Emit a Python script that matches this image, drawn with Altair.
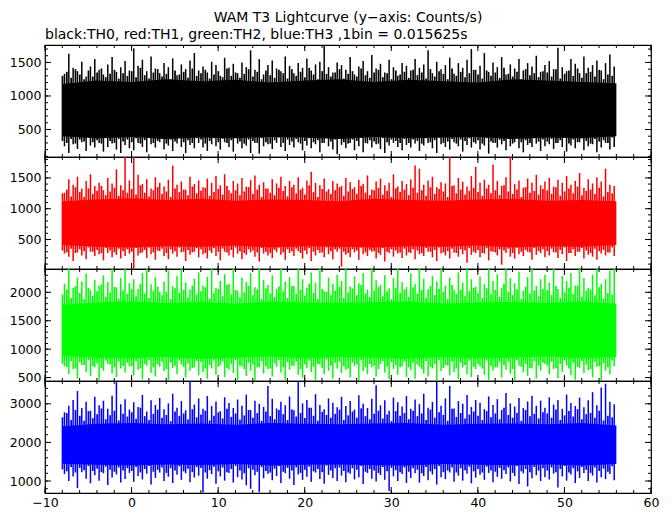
import altair as alt
import pandas as pd

# time axis: 4096 bins of 0.015625 s from -8 s to 56 s; envelope read per 0.5 s
T0 = -8.0
STEP = 0.5
CORE_STEP = 4.0

black_hi = [1330, 1630, 1420, 1370, 1510, 1290, 1440, 1550, 1390, 1320, 1470, 1580, 1360, 1430, 1520, 1380,
            1710, 1450, 1540, 1370, 1590, 1410, 1340, 1490, 1430, 1560, 1310, 1470, 1400, 1530, 1640, 1380,
            1440, 1350, 1510, 1460, 1300, 1570, 1420, 1480, 1340, 1500, 1430, 1680, 1390, 1550, 1320, 1460,
            1530, 1410, 1370, 1590, 1450, 1340, 1490, 1420, 1560, 1380, 1470, 1510, 1760, 1430, 1350, 1500,
            1460, 1390, 1580, 1320, 1440, 1520, 1370, 1610, 1410, 1480, 1350, 1540, 1430, 1300, 1490, 1450,
            1380, 1550, 1420, 1470, 1680, 1340, 1510, 1400, 1460, 1570, 1330, 1490, 1420, 1540, 1700, 1390,
            1450, 1640, 1360, 1500, 1430, 1580, 1320, 1470, 1410, 1550, 1380, 1490, 1440, 1600, 1360, 1460,
            1520, 1400, 1720, 1430, 1370, 1550, 1480, 1340, 1590, 1420, 1460, 1530, 1380, 1490, 1620, 1440]
black_lo = [250, 150, 280, 210, 310, 180, 260, 230, 300, 170, 240, 290, 200, 150, 270, 220,
            190, 300, 240, 160, 280, 230, 310, 200, 260, 180, 290, 240, 150, 270, 220, 300,
            230, 180, 280, 250, 200, 310, 240, 170, 290, 220, 260, 150, 300, 140, 250, 280,
            210, 300, 240, 180, 270, 230, 310, 190, 260, 220, 280, 160, 300, 250, 200, 130,
            270, 220, 300, 190, 250, 160, 290, 230, 280, 210, 150, 260, 300, 240, 190, 270,
            230, 290, 180, 260, 300, 220, 150, 280, 240, 200, 310, 250, 170, 270, 230, 290,
            200, 260, 140, 300, 230, 280, 190, 250, 310, 220, 160, 270, 240, 290, 180, 250,
            280, 210, 300, 240, 170, 260, 220, 310, 190, 250, 280, 160, 230, 300, 200, 240]
black_hi2 = [1300, 1360, 1270, 1400, 1320, 1250, 1380, 1290, 1350, 1410, 1280, 1330, 1390, 1260, 1340, 1300,
             1370, 1280, 1420, 1310, 1260, 1350, 1400, 1290, 1330, 1250, 1380, 1320, 1360, 1270, 1410, 1300,
             1340, 1390, 1260, 1320, 1370, 1280, 1410, 1300, 1350, 1270, 1330, 1400, 1290, 1360, 1250, 1380,
             1310, 1270, 1390, 1340, 1260, 1400, 1300, 1360, 1280, 1420, 1320, 1250, 1370, 1330, 1290, 1350,
             1400, 1260, 1330, 1370, 1290, 1410, 1310, 1270, 1350, 1390, 1280, 1340, 1250, 1380, 1320, 1360,
             1270, 1390, 1310, 1350, 1260, 1400, 1290, 1370, 1330, 1250, 1410, 1300, 1360, 1280, 1340, 1390,
             1320, 1260, 1380, 1300, 1350, 1270, 1420, 1330, 1290, 1360, 1250, 1400, 1310, 1340, 1280, 1370,
             1350, 1290, 1400, 1260, 1330, 1380, 1300, 1410, 1270, 1340, 1360, 1290, 1390, 1250, 1320, 1300]
black_lo2 = [330, 300, 360, 290, 350, 320, 380, 310, 340, 290, 370, 330, 300, 360, 320, 350,
             310, 370, 290, 340, 380, 300, 330, 360, 290, 350, 320, 380, 310, 340, 300, 370,
             350, 290, 330, 370, 310, 360, 300, 340, 380, 320, 290, 350, 330, 300, 370, 310,
             290, 340, 380, 300, 350, 320, 360, 290, 330, 370, 310, 340, 300, 380, 320, 350,
             360, 310, 290, 350, 330, 380, 300, 340, 320, 290, 370, 310, 350, 330, 300, 360,
             300, 350, 330, 290, 370, 310, 340, 380, 300, 320, 360, 290, 350, 330, 370, 310,
             340, 290, 370, 320, 300, 350, 330, 360, 290, 380, 310, 340, 300, 370, 320, 350,
             320, 360, 300, 340, 380, 290, 350, 310, 370, 330, 290, 360, 320, 340, 300, 380]
black_core_hi = [1180, 1230, 1210, 1250, 1220, 1240, 1200, 1230, 1250, 1210, 1240, 1220, 1200, 1250, 1230, 1210, 1190]
black_core_lo = [400, 370, 390, 360, 380, 370, 390, 380, 360, 390, 370, 380, 390, 360, 380, 370, 400]

red_hi = [1260, 1480, 1390, 1520, 1330, 1450, 1560, 1370, 1420, 1300, 1500, 1410, 1640, 1380, 1840, 1460,
          1840, 1550, 1400, 1480, 1330, 1510, 1420, 1360, 1470, 1700, 1390, 1440, 1310, 1520, 1400, 1460,
          1350, 1490, 1420, 1530, 1380, 1560, 1300, 1450, 1410, 1500, 1360, 1470, 1540, 1390, 1430, 1330,
          1480, 1410, 1520, 1370, 1450, 1390, 1510, 1340, 1460, 1600, 1420, 1380, 1490, 1320, 1450, 1410,
          1370, 1500, 1430, 1350, 1470, 1400, 1540, 1310, 1440, 1490, 1380, 1420, 1560, 1360, 1450, 1400,
          1480, 1700, 1650, 1390, 1460, 1520, 1350, 1430, 1410, 1840, 1380, 1500, 1440, 1360, 1530, 1680,
          1420, 1470, 1390, 1720, 1450, 1370, 1510, 1840, 1400, 1460, 1340, 1490, 1420, 1550, 1380, 1440,
          1500, 1360, 1470, 1420, 1530, 1390, 1450, 1580, 1340, 1480, 1410, 1510, 1440, 1650, 1390, 1370]
red_lo = [270, 220, 150, 290, 240, 180, 300, 230, 260, 160, 280, 210, 250, 190, 230, 270,
          30, 240, 290, 200, 260, 170, 310, 230, 180, 270, 220, 290, 150, 250, 300, 210,
          260, 190, 280, 230, 160, 300, 240, 210, 270, 180, 250, 290, 220, 140, 270, 240,
          200, 290, 250, 170, 280, 230, 310, 190, 260, 150, 240, 280, 210, 260, 180, 300,
          60, 250, 210, 290, 170, 260, 230, 300, 190, 250, 140, 280, 220, 270, 200, 240,
          280, 180, 260, 230, 300, 210, 150, 270, 240, 190, 290, 220, 260, 120, 250, 280,
          210, 270, 160, 300, 240, 90, 280, 220, 190, 260, 230, 300, 170, 250, 280, 210,
          240, 290, 200, 260, 150, 280, 230, 300, 190, 250, 220, 170, 270, 240, 290, 230]
red_hi2 = [1250, 1310, 1200, 1350, 1270, 1190, 1330, 1240, 1290, 1370, 1220, 1280, 1340, 1210, 1300, 1260,
           1320, 1230, 1380, 1260, 1200, 1300, 1350, 1240, 1280, 1190, 1330, 1270, 1310, 1220, 1360, 1250,
           1290, 1340, 1210, 1270, 1320, 1230, 1370, 1250, 1300, 1220, 1280, 1350, 1240, 1310, 1190, 1330,
           1260, 1220, 1340, 1290, 1200, 1350, 1250, 1310, 1230, 1380, 1270, 1190, 1320, 1280, 1240, 1300,
           1350, 1210, 1280, 1320, 1240, 1370, 1260, 1220, 1300, 1340, 1230, 1290, 1190, 1330, 1270, 1310,
           1220, 1340, 1260, 1300, 1210, 1350, 1240, 1320, 1280, 1190, 1370, 1250, 1310, 1230, 1290, 1340,
           1270, 1210, 1330, 1250, 1300, 1220, 1380, 1280, 1240, 1310, 1190, 1350, 1260, 1290, 1230, 1320,
           1300, 1240, 1350, 1210, 1280, 1330, 1250, 1360, 1220, 1290, 1310, 1240, 1340, 1200, 1270, 1250]
red_lo2 = [320, 290, 350, 280, 340, 310, 370, 300, 330, 280, 360, 320, 290, 350, 310, 340,
           300, 360, 280, 330, 370, 290, 320, 350, 280, 340, 310, 370, 300, 330, 290, 360,
           340, 280, 320, 360, 300, 350, 290, 330, 370, 310, 280, 340, 320, 290, 360, 300,
           280, 330, 370, 290, 340, 310, 350, 280, 320, 360, 300, 330, 290, 370, 310, 340,
           350, 300, 280, 340, 320, 370, 290, 330, 310, 280, 360, 300, 340, 320, 290, 350,
           290, 340, 320, 280, 360, 300, 330, 370, 290, 310, 350, 280, 340, 320, 360, 300,
           330, 280, 360, 310, 290, 340, 320, 350, 280, 370, 300, 330, 290, 360, 310, 340,
           310, 350, 290, 330, 370, 280, 340, 300, 360, 320, 280, 350, 310, 330, 290, 370]
red_core_hi = [1120, 1150, 1170, 1140, 1160, 1130, 1150, 1140, 1120, 1160, 1140, 1130, 1150, 1160, 1130, 1140, 1120]
red_core_lo = [410, 380, 370, 390, 380, 400, 370, 390, 380, 370, 390, 380, 400, 370, 390, 380, 410]

green_hi = [2150, 2410, 2080, 2260, 2190, 2330, 2040, 2220, 2120, 2300, 2180, 2410, 2090, 2250, 2410, 2160,
            2230, 2060, 2340, 2410, 2140, 2270, 2010, 2190, 2380, 2110, 2290, 2410, 2170, 2050, 2240, 2350,
            2120, 2270, 2410, 2080, 2200, 2320, 2150, 2410, 2030, 2260, 2180, 2340, 2090, 2410, 2220, 2130,
            2300, 2060, 2410, 2190, 2270, 2110, 2410, 2230, 2080, 2350, 2170, 2410, 2020, 2260, 2150, 2310,
            2200, 2410, 2100, 2280, 2160, 2340, 2050, 2410, 2210, 2130, 2300, 2070, 2250, 2410, 2180, 2090,
            2330, 2150, 2410, 2240, 2060, 2290, 2190, 2410, 2120, 2260, 2040, 2350, 2170, 2410, 2230, 2100,
            2280, 2140, 2410, 2200, 2320, 2080, 2410, 2250, 2160, 2360, 2030, 2270, 2410, 2110, 2230, 2310,
            2170, 2410, 2060, 2290, 2200, 2340, 2120, 2410, 2250, 2080, 2310, 2410, 2150, 2230, 2380, 2410]
green_lo = [700, 560, 650, 480, 720, 600, 530, 680, 460, 620, 740, 570, 510, 660, 590, 700,
            540, 640, 470, 710, 580, 520, 690, 610, 450, 670, 560, 730, 500, 620, 680, 540,
            600, 480, 660, 550, 720, 510, 640, 580, 460, 700, 530, 620, 450, 680, 570, 650,
            520, 690, 590, 460, 640, 710, 550, 500, 670, 600, 450, 730, 560, 620, 480, 660,
            580, 640, 500, 700, 450, 610, 560, 680, 520, 740, 590, 470, 650, 550, 700, 510,
            630, 480, 690, 570, 520, 660, 450, 610, 720, 540, 600, 470, 680, 560, 510, 650,
            700, 550, 460, 620, 680, 500, 640, 570, 450, 710, 590, 530, 660, 480, 620, 740,
            560, 650, 490, 600, 710, 540, 460, 670, 580, 630, 500, 690, 450, 620, 560, 700]
green_hi2 = [1960, 2050, 1900, 2110, 1990, 1880, 2080, 1940, 2020, 2140, 1920, 2000, 2090, 1890, 2030, 1970,
             2060, 1930, 2150, 1980, 1900, 2030, 2100, 1950, 2010, 1880, 2070, 1990, 2040, 1910, 2120, 1960,
             2020, 2090, 1890, 1990, 2060, 1930, 2130, 1960, 2040, 1910, 2000, 2110, 1950, 2050, 1880, 2070,
             1980, 1920, 2100, 2020, 1900, 2110, 1970, 2050, 1940, 2150, 1990, 1880, 2060, 2010, 1950, 2030,
             2100, 1900, 2000, 2070, 1950, 2130, 1980, 1920, 2030, 2090, 1930, 2020, 1880, 2080, 1990, 2050,
             1920, 2090, 1980, 2040, 1900, 2110, 1950, 2060, 2010, 1880, 2130, 1970, 2050, 1930, 2020, 2080,
             1990, 1900, 2070, 1960, 2040, 1920, 2150, 2010, 1950, 2050, 1880, 2100, 1980, 2030, 1930, 2060,
             2040, 1950, 2110, 1900, 2000, 2080, 1970, 2120, 1920, 2030, 2050, 1950, 2090, 1890, 1990, 1960]
green_lo2 = [740, 690, 790, 660, 770, 720, 810, 700, 750, 670, 800, 730, 680, 780, 710, 760,
             700, 790, 660, 740, 810, 680, 730, 780, 650, 760, 710, 800, 690, 750, 670, 790,
             770, 660, 720, 800, 690, 780, 670, 740, 810, 710, 650, 760, 730, 680, 790, 700,
             660, 750, 810, 680, 770, 710, 780, 650, 730, 800, 690, 740, 670, 820, 710, 760,
             780, 700, 660, 760, 730, 810, 680, 740, 710, 650, 790, 690, 770, 720, 680, 780,
             680, 760, 730, 650, 790, 690, 740, 810, 670, 710, 780, 660, 760, 720, 800, 690,
             740, 660, 800, 710, 680, 770, 720, 780, 650, 810, 690, 740, 670, 790, 710, 760,
             710, 780, 670, 740, 810, 660, 760, 690, 790, 730, 650, 780, 700, 750, 680, 800]
green_core_hi = [1780, 1820, 1840, 1810, 1830, 1800, 1840, 1820, 1810, 1830, 1840, 1800, 1820, 1830, 1810, 1840, 1800]
green_core_lo = [880, 850, 840, 860, 830, 850, 870, 840, 860, 850, 830, 860, 840, 850, 870, 840, 860]

blue_hi = [2780, 2950, 3100, 3330, 2890, 3050, 2820, 3180, 2960, 3080, 2870, 3210, 3590, 2990, 3120, 2850,
           3040, 2920, 3230, 2800, 3090, 2970, 3150, 2860, 3010, 3260, 2900, 3070, 2830, 3590, 2980, 3140,
           2870, 3200, 2940, 3060, 2810, 3170, 3020, 2890, 3110, 2950, 3240, 2840, 3080, 3000, 2920, 3460,
           3130, 2880, 3050, 2960, 3190, 2830, 3590, 3010, 3100, 2900, 3250, 2970, 2860, 3140, 3030, 2910,
           3180, 2940, 3070, 2850, 3220, 3000, 2890, 3130, 3480, 2960, 3090, 2820, 3160, 3040, 2930, 3200,
           2870, 3110, 2990, 3260, 2900, 3050, 3590, 2950, 3140, 3460, 2880, 3070, 3000, 3230, 2920, 3100,
           3030, 2860, 3190, 2970, 3120, 2840, 3280, 3010, 2930, 3150, 2890, 3060, 3210, 2950, 3080, 2900,
           3170, 2980, 3100, 2870, 3240, 3020, 2940, 3160, 2910, 3090, 3300, 2960, 3420, 3520, 3050, 2990]
blue_lo = [1180, 1000, 1120, 820, 1230, 1060, 940, 1150, 1010, 1200, 900, 1090, 1170, 960, 1050, 1210,
           980, 1130, 1040, 1190, 910, 1080, 1220, 1000, 1110, 950, 1160, 1030, 1200, 970, 1090, 1140,
           700, 1060, 1180, 930, 1120, 1010, 1210, 960, 1100, 1040, 890, 800, 1150, 710, 1070, 1190,
           1020, 1130, 950, 1200, 1060, 900, 1170, 1030, 1110, 980, 1220, 1050, 930, 1160, 1080, 1000,
           1140, 970, 1190, 1040, 1100, 920, 1210, 1060, 990, 1150, 1030, 740, 1120, 1000, 1180, 950,
           1080, 1200, 960, 1130, 1020, 1170, 910, 1100, 1050, 1220, 980, 1140, 1010, 1190, 940, 1090,
           1160, 1030, 1210, 970, 1110, 1060, 1180, 990, 1130, 920, 1200, 860, 1070, 1150, 1000, 1100,
           1040, 1190, 830, 1120, 1010, 1170, 950, 1080, 1210, 1000, 1140, 960, 1100, 1050, 1180, 1020]
blue_hi2 = [2650, 2760, 2580, 2840, 2690, 2560, 2810, 2630, 2730, 2880, 2600, 2700, 2820, 2570, 2740, 2670,
            2780, 2610, 2900, 2680, 2580, 2740, 2850, 2640, 2710, 2550, 2800, 2690, 2750, 2590, 2860, 2650,
            2720, 2820, 2570, 2690, 2780, 2620, 2870, 2660, 2750, 2590, 2700, 2840, 2640, 2760, 2560, 2800,
            2680, 2600, 2840, 2730, 2580, 2850, 2670, 2760, 2630, 2900, 2690, 2560, 2790, 2710, 2640, 2740,
            2850, 2580, 2700, 2800, 2640, 2880, 2680, 2600, 2740, 2820, 2620, 2720, 2550, 2810, 2690, 2760,
            2600, 2820, 2680, 2750, 2580, 2850, 2640, 2780, 2710, 2560, 2870, 2660, 2760, 2620, 2720, 2800,
            2690, 2580, 2810, 2650, 2750, 2600, 2900, 2710, 2640, 2760, 2560, 2840, 2680, 2740, 2620, 2780,
            2750, 2640, 2850, 2580, 2700, 2810, 2670, 2860, 2600, 2730, 2760, 2640, 2820, 2570, 2690, 2650]
blue_lo2 = [1300, 1250, 1360, 1220, 1340, 1280, 1390, 1260, 1320, 1230, 1370, 1290, 1240, 1350, 1270, 1330,
            1260, 1360, 1220, 1310, 1390, 1240, 1290, 1350, 1210, 1330, 1270, 1380, 1250, 1320, 1230, 1360,
            1340, 1220, 1280, 1370, 1250, 1350, 1230, 1310, 1390, 1270, 1200, 1330, 1290, 1240, 1360, 1260,
            1220, 1320, 1390, 1240, 1340, 1270, 1350, 1210, 1290, 1370, 1250, 1310, 1230, 1400, 1270, 1330,
            1350, 1260, 1220, 1330, 1290, 1390, 1240, 1310, 1270, 1210, 1360, 1250, 1340, 1280, 1230, 1350,
            1240, 1330, 1290, 1200, 1360, 1250, 1310, 1390, 1230, 1270, 1350, 1220, 1330, 1280, 1370, 1250,
            1310, 1220, 1370, 1270, 1240, 1340, 1280, 1350, 1210, 1390, 1250, 1310, 1230, 1360, 1270, 1330,
            1270, 1350, 1230, 1310, 1390, 1220, 1330, 1250, 1360, 1290, 1210, 1350, 1260, 1320, 1240, 1380]
blue_core_hi = [2420, 2480, 2500, 2470, 2490, 2460, 2500, 2480, 2470, 2490, 2500, 2460, 2480, 2490, 2470, 2500, 2440]
blue_core_lo = [1450, 1420, 1400, 1430, 1410, 1440, 1400, 1420, 1430, 1410, 1400, 1440, 1420, 1410, 1430, 1400, 1440]

x_labels = [-10, 0, 10, 20, 30, 40, 50, 60]
x_minor = [v for v in range(-10, 61, 2)]

panels = [
    dict(color="#000000", hi=black_hi, lo=black_lo, hi2=black_hi2, lo2=black_lo2,
         chi=black_core_hi, clo=black_core_lo, domain=[90, 1760], major=[500, 1000, 1500], minor_step=100),
    dict(color="#ff0000", hi=red_hi, lo=red_lo, hi2=red_hi2, lo2=red_lo2,
         chi=red_core_hi, clo=red_core_lo, domain=[20, 1840], major=[500, 1000, 1500], minor_step=100),
    dict(color="#00ff00", hi=green_hi, lo=green_lo, hi2=green_hi2, lo2=green_lo2,
         chi=green_core_hi, clo=green_core_lo, domain=[440, 2410], major=[500, 1000, 1500, 2000], minor_step=100),
    dict(color="#0000ff", hi=blue_hi, lo=blue_lo, hi2=blue_hi2, lo2=blue_lo2,
         chi=blue_core_hi, clo=blue_core_lo, domain=[690, 3590], major=[1000, 2000, 3000], minor_step=200),
]

W, H = 606, 112
FONT = "DejaVu Sans"
FS = 12.5
MAJ, MIN = 6, 3

xscale = alt.Scale(domain=[-10, 60], nice=False, zero=False)

charts = []
for k, p in enumerate(panels):
    for key in ("hi", "lo", "hi2", "lo2"):
        assert len(p[key]) == 128, key
    assert len(p["chi"]) == 17 and len(p["clo"]) == 17
    needles = pd.DataFrame({
        "t": [T0 + STEP * i + STEP / 2 for i in range(128)],
        "hi": p["hi"], "lo": p["lo"]})
    needles2 = pd.DataFrame({
        "t": [T0 + STEP * i + 0.02 for i in range(128)],
        "hi": p["hi2"], "lo": p["lo2"]})
    core = pd.DataFrame({
        "t": [T0 + CORE_STEP * i for i in range(17)],
        "chi": p["chi"], "clo": p["clo"]})
    lo_d, hi_d = p["domain"]
    yscale = alt.Scale(domain=p["domain"], nice=False, zero=False)
    yminor = [v for v in range(0, 4000, p["minor_step"]) if lo_d < v < hi_d]
    last = k == len(panels) - 1
    xaxis = (alt.Axis(values=x_labels, ticks=False, domain=False, grid=False, title=None,
                      labelFont=FONT, labelFontSize=FS, labelColor="black", labelPadding=3,
                      labelFlush=False)
             if last else None)
    yaxis = alt.Axis(values=p["major"], ticks=False, domain=False, grid=False, title=None,
                     labelFont=FONT, labelFontSize=FS, labelColor="black", labelPadding=4,
                     labelFlush=False, format="d")

    def X(field):
        return alt.X(field, type="quantitative", scale=xscale, axis=xaxis)

    def Y(field):
        return alt.Y(field, type="quantitative", scale=yscale, axis=yaxis)

    layers = []
    layers.append(alt.Chart(core).mark_area(color=p["color"], clip=True, opacity=1).encode(
        x=X("t"), y=Y("chi"), y2="clo"))
    layers.append(alt.Chart(needles2).mark_rule(color=p["color"], strokeWidth=1.7, clip=True).encode(
        x=X("t"), y=Y("hi"), y2="lo"))
    layers.append(alt.Chart(needles).mark_rule(color=p["color"], strokeWidth=1.5, clip=True).encode(
        x=X("t"), y=Y("hi"), y2="lo"))
    # inward ticks on all four sides
    for vals, L in ((x_labels, MAJ), (x_minor, MIN)):
        base = alt.Chart(pd.DataFrame({"v": vals})).mark_rule(color="black", strokeWidth=1)
        layers.append(base.encode(x=X("v"), y=alt.value(0), y2=alt.value(L)))
        layers.append(base.encode(x=X("v"), y=alt.value(H), y2=alt.value(H - L)))
    for vals, L in ((p["major"], MAJ), (yminor, MIN)):
        base = alt.Chart(pd.DataFrame({"v": vals})).mark_rule(color="black", strokeWidth=1)
        layers.append(base.encode(y=Y("v"), x=alt.value(0), x2=alt.value(L)))
        layers.append(base.encode(y=Y("v"), x=alt.value(W), x2=alt.value(W - L)))

    props = dict(width=W, height=H)
    if k == 0:
        props["title"] = alt.TitleParams("black:TH0, red:TH1, green:TH2, blue:TH3 ,1bin = 0.015625s",
                                         anchor="start", frame="group", font=FONT, fontSize=14,
                                         fontWeight="normal", color="black", offset=3)
    charts.append(alt.layer(*layers).properties(**props))

chart = alt.vconcat(*charts, spacing=0, bounds="flush").properties(
    title=alt.TitleParams("WAM T3 Lightcurve (y\u2212axis: Counts/s)", anchor="middle", frame="group",
                          font=FONT, fontSize=14, fontWeight="normal", color="black", offset=2)
).configure(padding={"left": 0, "top": 2, "right": 4, "bottom": 0}, background="white"
).configure_view(stroke="black", strokeWidth=1.2)

chart.save("out.html", embed_options={"renderer": "svg", "actions": False})
